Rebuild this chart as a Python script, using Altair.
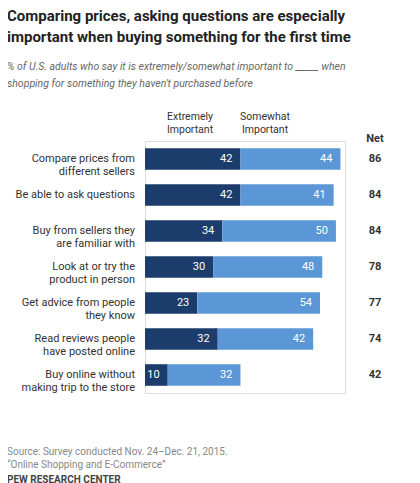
import altair as alt
import pandas as pd

labels = [
    "Compare prices from\ndifferent sellers",
    "Be able to ask questions",
    "Buy from sellers they\nare familiar with",
    "Look at or try the\nproduct in person",
    "Get advice from people\nthey know",
    "Read reviews people\nhave posted online",
    "Buy online without\nmaking trip to the store",
]
extremely = [42, 42, 34, 30, 23, 32, 10]
somewhat = [44, 41, 50, 48, 54, 42, 32]
net = [86, 84, 84, 78, 77, 74, 42]

DARK = "#1c3d6b"
LIGHT = "#5b97d6"

rows = []
for lab, e, s, n in zip(labels, extremely, somewhat, net):
    rows.append({"label": lab, "seg": "Extremely", "start": 0, "end": e, "val": e, "net": n})
    rows.append({"label": lab, "seg": "Somewhat", "start": e, "end": e + s, "val": s, "net": n})
df = pd.DataFrame(rows)

y = alt.Y("label:N", sort=labels, axis=None,
          scale=alt.Scale(paddingInner=0.4, paddingOuter=0.2))
x = alt.X("start:Q", axis=None, scale=alt.Scale(domain=[0, 88]))

base = alt.Chart(df)
bars = base.mark_bar().encode(
    x=x, x2="end:Q", y=y,
    color=alt.Color("seg:N", legend=None,
                    scale=alt.Scale(domain=["Extremely", "Somewhat"], range=[DARK, LIGHT])),
)
vals = base.mark_text(align="right", dx=-8, color="white", fontSize=11,
                      font="Roboto").encode(
    x=alt.X("end:Q", scale=alt.Scale(domain=[0, 88]), axis=None), y=y, text="val:Q")

first = df[df.seg == "Extremely"]
cats = alt.Chart(first).mark_text(align="right", x=-10, fontSize=11, color="#333",
                                  lineBreak="\n", font="Roboto").encode(y=y, text="label:N")
nets = alt.Chart(first).mark_text(align="center", x=230, fontSize=11, fontWeight="bold",
                                  color="#333", font="Roboto").encode(y=y, text="net:Q")


def txt(t, px, py, **kw):
    opts = dict(align="left", baseline="middle", fontSize=11, color="#333",
                font="Roboto", lineBreak="\n")
    opts.update(kw)
    return alt.Chart(pd.DataFrame({"t": [t]})).mark_text(**opts).encode(
        x=alt.value(px), y=alt.value(py), text="t:N")


extras = [
    txt("Comparing prices, asking questions are especially", -138, -125,
        fontSize=15, fontWeight="bold", color="#222"),
    txt("important when buying something for the first time", -138, -104,
        fontSize=15, fontWeight="bold", color="#222"),
    txt("% of U.S. adults who say it is extremely/somewhat important to _____ when", -138, -74,
        fontStyle="italic", color="#666", fontSize=10.5),
    txt("shopping for something they haven't purchased before", -138, -57,
        fontStyle="italic", color="#666", fontSize=10.5),
    txt("Extremely\nImportant", 45, -24, align="center", fontSize=10.5),
    txt("Somewhat\nImportant", 120, -24, align="center", fontSize=10.5),
    txt("Net", 230, -2, align="center", fontWeight="bold"),
    txt("Source: Survey conducted Nov. 24\u2013Dec. 21, 2015.", -138, 311,
        color="#888", fontSize=10),
    txt("\u201cOnline Shopping and E-Commerce\u201d", -138, 324, color="#888", fontSize=10),
    txt("PEW RESEARCH CENTER", -138, 339, fontWeight="bold", color="#444", fontSize=10),
]

chart = alt.layer(bars, vals, cats, nets, *extras).properties(
    width=200, height=252,
    autosize=alt.AutoSizeParams(type="none"),
    padding={"left": 137, "top": 133, "right": 67, "bottom": 90},
).configure_view(stroke=None).configure(background="white")

chart.save("out.html", embed_options={"renderer": "svg", "actions": False})
